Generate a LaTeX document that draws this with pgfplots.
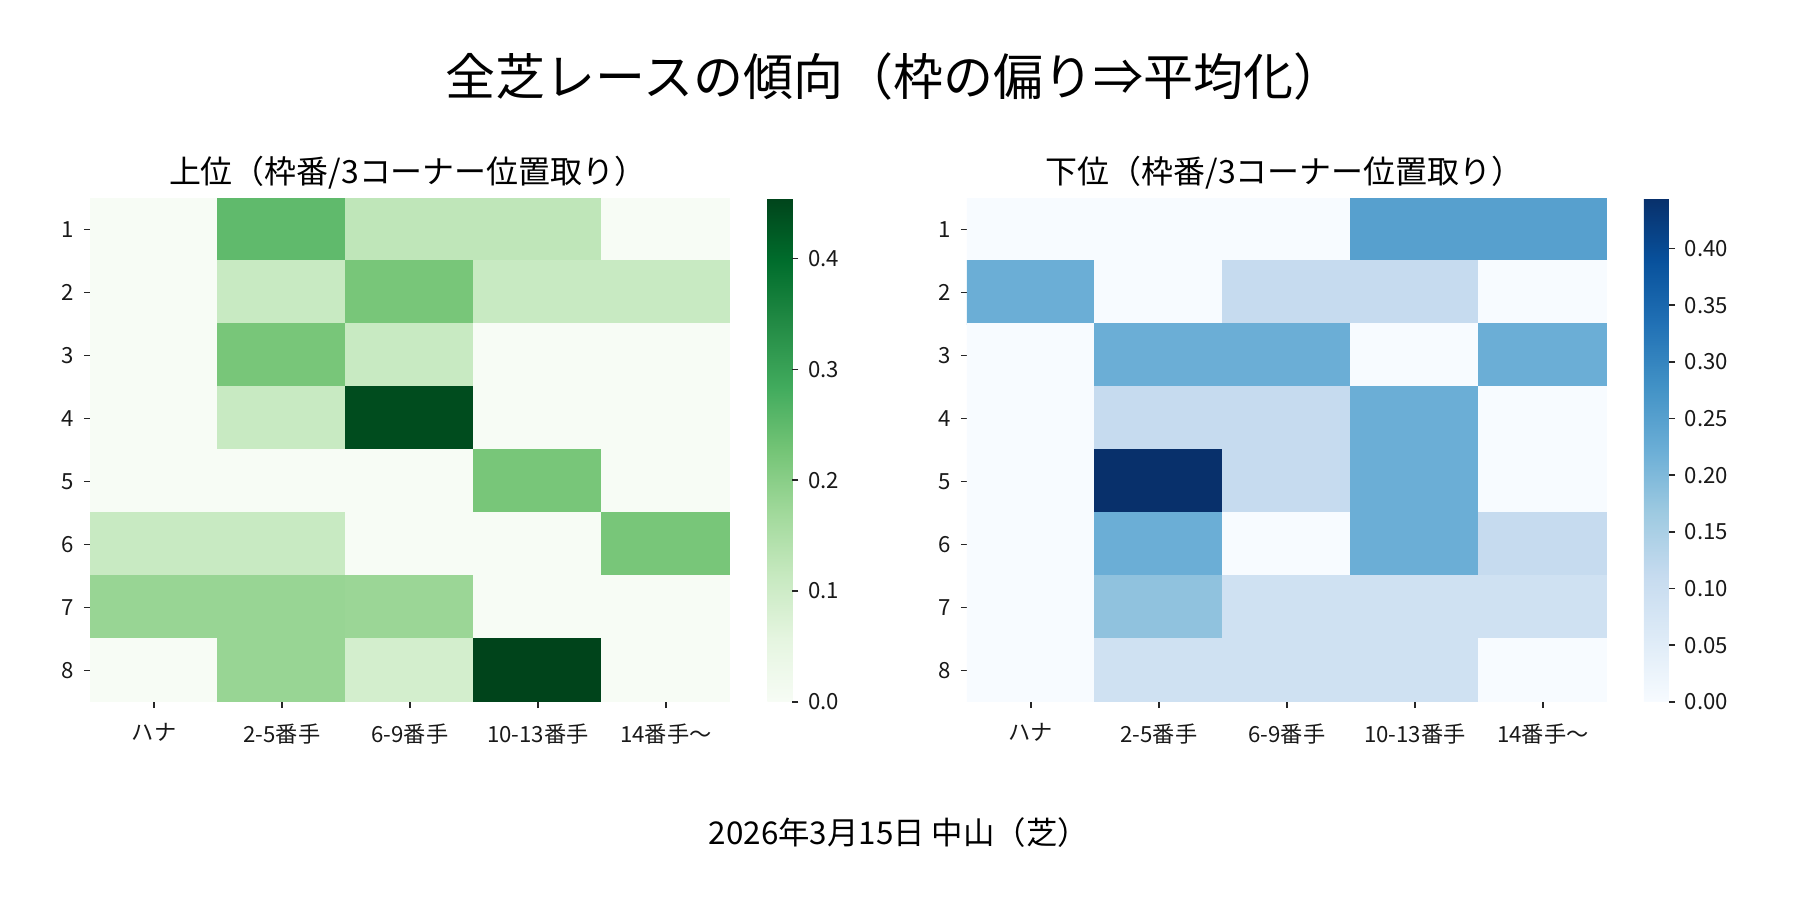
\documentclass[border=0pt]{standalone}
\usepackage{fontspec}
\setmainfont{Noto Sans CJK JP}
\usepackage{pgfplots}
\usepackage{pgfplotstable}
\pgfplotsset{compat=1.18}

\pgfplotstableread{
x y c
0 1 0
1 1 0.25
2 1 0.125
3 1 0.125
4 1 0
0 2 0
1 2 0.111
2 2 0.222
3 2 0.111
4 2 0.111
0 3 0
1 3 0.222
2 3 0.111
3 3 0
4 3 0
0 4 0
1 4 0.111
2 4 0.444
3 4 0
4 4 0
0 5 0
1 5 0
2 5 0
3 5 0.222
4 5 0
0 6 0.111
1 6 0.111
2 6 0
3 6 0
4 6 0.222
0 7 0.182
1 7 0.182
2 7 0.178
3 7 0
4 7 0
0 8 0
1 8 0.182
2 8 0.0909
3 8 0.4545
4 8 0
}\tabU

\pgfplotstableread{
x y c
0 1 0
1 1 0
2 1 0
3 1 0.25
4 1 0.25
0 2 0.222
1 2 0
2 2 0.111
3 2 0.111
4 2 0
0 3 0
1 3 0.222
2 3 0.222
3 3 0
4 3 0.222
0 4 0
1 4 0.111
2 4 0.111
3 4 0.222
4 4 0
0 5 0
1 5 0.4444
2 5 0.111
3 5 0.222
4 5 0
0 6 0
1 6 0.222
2 6 0
3 6 0.222
4 6 0.111
0 7 0
1 7 0.182
2 7 0.0909
3 7 0.0909
4 7 0.0909
0 8 0
1 8 0.0909
2 8 0.0909
3 8 0.0909
4 8 0
}\tabL

\pgfplotsset{
  colormap={Greens}{rgb255=(247,252,245) rgb255=(229,245,224) rgb255=(199,233,192) rgb255=(161,217,155) rgb255=(116,196,118) rgb255=(65,171,93) rgb255=(35,139,69) rgb255=(0,109,44) rgb255=(0,68,27)},
  colormap={Blues}{rgb255=(247,251,255) rgb255=(222,235,247) rgb255=(198,219,239) rgb255=(158,202,225) rgb255=(107,174,214) rgb255=(66,146,198) rgb255=(33,113,181) rgb255=(8,81,156) rgb255=(8,48,107)},
  hm/.style={
    scale only axis,
    width=230.4pt, height=181.4pt,
    anchor=south west,
    xmin=-0.5, xmax=4.5, ymin=0.5, ymax=8.5,
    y dir=reverse,
    axis line style={draw=none},
    tick align=outside,
    major tick length=2.2pt,
    major tick style={black!85, line width=0.6pt},
    xtick={0,1,2,3,4},
    xticklabels={ハナ,2-5番手,6-9番手,10-13番手,14番手〜},
    ytick={1,2,3,4,5,6,7,8},
    yticklabels={1,2,3,4,5,6,7,8},
    xtick pos=bottom, ytick pos=left,
    tick label style={font=\fontsize{8}{9}\selectfont, text=black!90},
    xticklabel style={yshift=-2pt},
    point meta min=0,
    colorbar,
  },
}

\begin{document}
\begin{tikzpicture}
\useasboundingbox (0,0) rectangle (648pt,324pt);

\begin{axis}[hm, at={(32.4pt,71.3pt)},
  colormap name=Greens,
  point meta max=0.4545,
  colorbar style={
    at={(parent axis.north east)}, anchor=north west, xshift=4.9pt,
    width=9pt,
    axis line style={draw=none},
    tick align=outside, major tick length=2.2pt,
    major tick style={black!85, line width=0.6pt},
    ytick={0,0.1,0.2,0.3,0.4},
    yticklabels={0.0,0.1,0.2,0.3,0.4},
    yticklabel pos=right, ytick pos=right,
    tick label style={font=\fontsize{8}{9}\selectfont, text=black!90},
  }]
\addplot[matrix plot*, mesh/cols=5, point meta=explicit] table[x=x, y=y, meta=c] {\tabU};
\end{axis}

\begin{axis}[hm, at={(348.1pt,71.3pt)},
  colormap name=Blues,
  point meta max=0.4444,
  colorbar style={
    at={(parent axis.north east)}, anchor=north west, xshift=4.8pt,
    width=9pt,
    axis line style={draw=none},
    tick align=outside, major tick length=2.2pt,
    major tick style={black!85, line width=0.6pt},
    ytick={0,0.05,0.1,0.15,0.2,0.25,0.3,0.35,0.4},
    yticklabels={0.00,0.05,0.10,0.15,0.20,0.25,0.30,0.35,0.40},
    yticklabel pos=right, ytick pos=right,
    tick label style={font=\fontsize{8}{9}\selectfont, text=black!90},
  }]
\addplot[matrix plot*, mesh/cols=5, point meta=explicit] table[x=x, y=y, meta=c] {\tabL};
\end{axis}

\node[font=\fontsize{18}{20}\selectfont] at (322pt,296.3pt) {全芝レースの傾向（枠の偏り⇒平均化）};
\node[font=\fontsize{11.5}{13}\selectfont] at (146.8pt,261.7pt) {上位（枠番/3コーナー位置取り）};
\node[font=\fontsize{11.5}{13}\selectfont] at (462.5pt,261.7pt) {下位（枠番/3コーナー位置取り）};
\node[font=\fontsize{11.3}{13}\selectfont] at (323.6pt,24.1pt) {2026年3月15日 中山（芝）};
\end{tikzpicture}
\end{document}
